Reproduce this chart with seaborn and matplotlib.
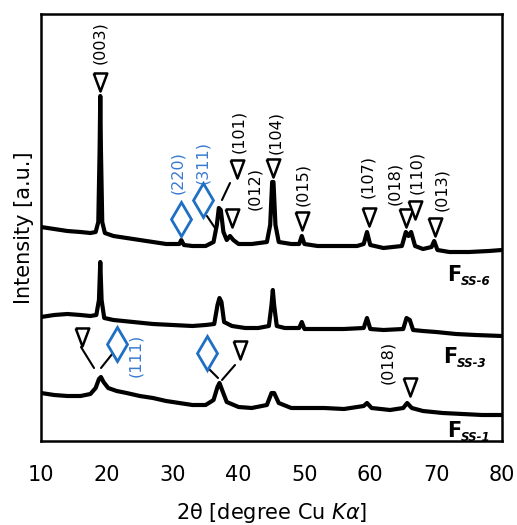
import matplotlib
matplotlib.use("Agg")
import matplotlib.pyplot as plt
import seaborn as sns
import pandas as pd

# ---- diffraction patterns (2theta in degrees, intensity in a.u. with stacking offset) ----
two_theta_ss6 = [10, 12, 14, 16, 17.5, 18.3, 18.7, 18.9, 19.0, 19.1, 19.3, 19.7, 21, 23, 25, 27, 29,
                 31, 31.3, 31.7, 33, 35, 36.2, 36.7, 37.0, 37.3, 37.7, 38.2, 38.7, 39.2, 40, 42,
                 44.3, 44.8, 45.1, 45.3, 45.6, 46.1, 48, 49.2, 49.6, 50.0, 52, 55, 58, 59.0, 59.5,
                 60.0, 62, 64.8, 65.4, 65.8, 66.2, 66.8, 68, 69.3, 69.7, 70.2, 72, 75, 78, 80]
intensity_ss6 = [214, 212, 210, 209, 208, 209, 219, 291, 345, 291, 219, 208, 205, 203, 201, 199, 197,
                 197, 201, 196, 195, 195, 199, 216, 233, 231, 209, 201, 205, 201, 197, 197,
                 199, 216, 259, 259, 216, 199, 197, 197, 205, 197, 195, 195, 195, 197, 209,
                 196, 193, 195, 209, 205, 209, 195, 192, 194, 200, 191, 189, 189, 190, 191]

two_theta_ss3 = [10, 12, 14, 16, 17.5, 18.4, 18.8, 19.0, 19.2, 19.6, 21, 24, 27, 30, 33, 35, 36.3,
                 36.8, 37.1, 37.4, 37.8, 39, 41, 43, 44.6, 45.0, 45.2, 45.4, 45.8, 47, 49.2, 49.6,
                 50.0, 53, 56, 59.0, 59.5, 60.0, 62, 65.0, 65.5, 66.0, 66.5, 68, 70, 73, 76, 80]
intensity_ss3 = [124, 126, 127, 126, 125, 126, 141, 179, 141, 123, 121, 119, 117, 116, 115, 116, 117,
                 136, 143, 139, 119, 115, 113, 113, 115, 136, 151, 136, 115, 113, 113, 119,
                 112, 112, 112, 113, 123, 112, 111, 112, 123, 121, 111, 110, 109, 107, 106, 105]

two_theta_ss1 = [10, 12, 14, 16, 17.5, 18.3, 18.8, 19.1, 19.5, 20.2, 21.5, 23, 25, 27, 29, 31, 33,
                 35, 36.2, 36.8, 37.1, 37.5, 38.2, 40, 42, 44.3, 45.0, 45.4, 46.1, 48, 50, 53, 56,
                 59.0, 59.5, 60.2, 63, 65.0, 65.6, 66.3, 68, 71, 74, 77, 80]
intensity_ss1 = [48, 46, 45, 45, 47, 53, 62, 64, 59, 53, 50, 48, 45, 43, 40, 38, 36,
                 36, 41, 54, 58, 51, 39, 34, 33, 36, 48, 48, 38, 33, 33, 33, 32,
                 35, 38, 33, 31, 33, 38, 33, 30, 28, 27, 26, 26]

samples = ["SS-6", "SS-3", "SS-1"]

# ---- reflection annotations: (label, marker x, marker y, label x, label y) ----
layered_top = [("(003)", 18.96, 359, 18.96, 398),
               ("(101)", 39.76, 272, 40.06, 310),
               ("(012)", 39.0, 223, 42.5, 253),
               ("(104)", 45.2, 273, 45.7, 308),
               ("(015)", 49.63, 220, 49.8, 257),
               ("(107)", 59.8, 224, 59.65, 264),
               ("(018)", 65.42, 223, 63.75, 258),
               ("(110)", 66.79, 231, 67.1, 269),
               ("(013)", 69.82, 214, 70.9, 251)]
spinel_top = [("(220)", 31.26, 222, 30.8, 268),
              ("(311)", 34.6, 241, 34.6, 279)]
layered_bottom = [("", 16.23, 104, None, None),
                  ("", 40.22, 91, None, None),
                  ("(018)", 66.03, 54, 62.69, 79)]
spinel_bottom = [("(111)", 21.54, 97, 24.42, 86),
                 ("", 35.2, 88, None, None)]
# leader lines from symbols to the peaks they mark
leaders = [((35.2, 225), (36.42, 213)),
           ((38.7, 258), (37.48, 241)),
           ((16.07, 94), (18.05, 73)),
           ((20.93, 88), (19.11, 73)),
           ((35.36, 73), (36.88, 63)),
           ((39.46, 76), (37.48, 61))]
sample_labels = [("SS-6", 71.65, 160), ("SS-3", 71.04, 78), ("SS-1", 71.65, 4)]

frames = []
for name, tt, inten in zip(samples,
                           [two_theta_ss6, two_theta_ss3, two_theta_ss1],
                           [intensity_ss6, intensity_ss3, intensity_ss1]):
    frames.append(pd.DataFrame({"two_theta": tt, "intensity": inten, "sample": name}))
df = pd.concat(frames, ignore_index=True)

sns.set_theme(style="white")
plt.rcParams["font.family"] = ["DejaVu Sans"]
plt.rcParams["text.color"] = "black"
plt.rcParams["axes.labelcolor"] = "black"
plt.rcParams["xtick.color"] = "black"

fig = plt.figure(figsize=(5.17, 5.25), dpi=100)
ax = fig.add_axes([41 / 517, 1 - 441 / 525, 461 / 517, 427 / 525])

sns.lineplot(data=df, x="two_theta", y="intensity", units="sample", estimator=None,
             color="black", lw=3.0, ax=ax, sort=False)

tri = [(-0.75, 1.0), (0.75, 1.0), (0.0, -1.0), (-0.75, 1.0)]
blue = "#1f6fc4"
blue_txt = "#3a7bd0"

for lab, mx, my, lx, ly in layered_top + layered_bottom:
    ax.plot(mx, my, marker=tri, ms=13, mfc="white", mec="black", mew=1.8, ls="none", zorder=5)
    if lab:
        ax.text(lx, ly, lab, rotation=90, ha="center", va="center", fontsize=11.5, color="black")

for lab, mx, my, lx, ly in spinel_top + spinel_bottom:
    ax.plot(mx, my, marker="d", ms=17, mfc="white", mec=blue, mew=2.0, ls="none", zorder=5)
    if lab:
        ax.text(lx, ly, lab, rotation=90, ha="center", va="center", fontsize=11.5, color=blue_txt)

for (x0, y0), (x1, y1) in leaders:
    ax.plot([x0, x1], [y0, y1], color="black", lw=1.5, zorder=4)

for sub, x, y in sample_labels:
    ax.text(x, y, "F", fontsize=15, fontweight="bold", ha="left", va="baseline")
    ax.annotate(sub, xy=(x, y), xytext=(10, -3), textcoords="offset points",
                fontsize=8.5, fontweight="bold", fontstyle="italic", ha="left", va="baseline")

ax.set_xlim(10, 80)
ax.set_ylim(0, 427)
ax.set_xticks(range(10, 81, 10))
ax.set_yticks([])
ax.tick_params(axis="x", labelsize=15, length=0, pad=17, colors="black")
ax.set_xlabel(r"2θ [degree Cu $\mathit{K\alpha}$]", fontsize=15, labelpad=12)
ax.set_ylabel("Intensity [a.u.]", fontsize=15, labelpad=5)
for sp in ax.spines.values():
    sp.set_visible(True)
    sp.set_color("black")
    sp.set_linewidth(1.8)

fig.savefig("out.png", dpi=100)
